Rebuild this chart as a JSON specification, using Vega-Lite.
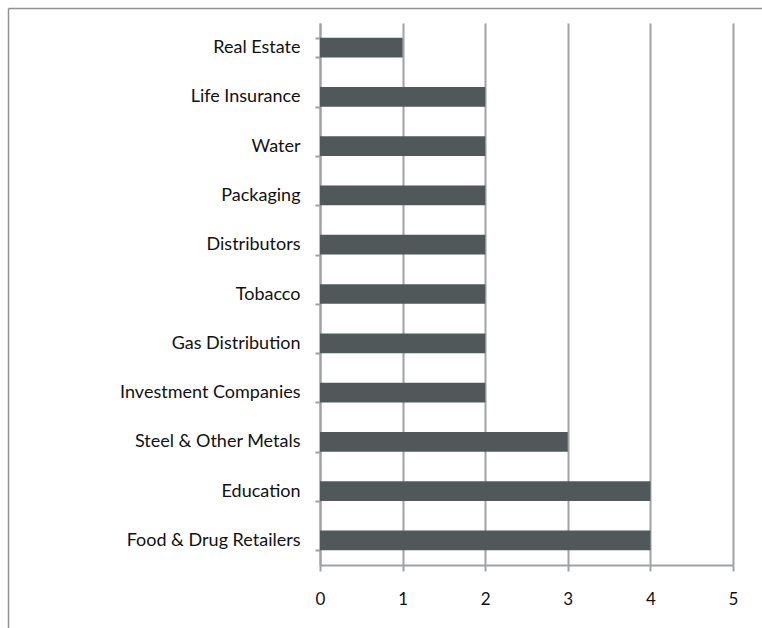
{
  "$schema": "https://vega.github.io/schema/vega-lite/v6.json",
  "autosize": {"type": "none"},
  "width": 413,
  "height": 542,
  "padding": {"left": 320, "top": 23, "right": 29, "bottom": 63},
  "config": {
    "font": "Lato",
    "view": {"stroke": null},
    "axis": {
      "labelFont": "Lato",
      "labelFontSize": 18,
      "labelColor": "#111111",
      "labelLimit": 400,
      "domainColor": "#9EA2A4",
      "domainWidth": 2,
      "tickColor": "#9EA2A4",
      "tickWidth": 2,
      "gridColor": "#9EA2A4",
      "gridWidth": 2,
      "gridOpacity": 1,
      "title": null
    }
  },
  "data": {
    "values": [
      {"sector": "Real Estate", "count": 1},
      {"sector": "Life Insurance", "count": 2},
      {"sector": "Water", "count": 2},
      {"sector": "Packaging", "count": 2},
      {"sector": "Distributors", "count": 2},
      {"sector": "Tobacco", "count": 2},
      {"sector": "Gas Distribution", "count": 2},
      {"sector": "Investment Companies", "count": 2},
      {"sector": "Steel & Other Metals", "count": 3},
      {"sector": "Education", "count": 4},
      {"sector": "Food & Drug Retailers", "count": 4}
    ]
  },
  "layer": [
    {
      "mark": {"type": "bar", "color": "#50585A"},
      "encoding": {
        "y": {
          "field": "sector",
          "type": "nominal",
          "sort": null,
          "scale": {"paddingInner": 0.6, "paddingOuter": 0.3},
          "axis": {
            "tickBand": "extent",
            "tickSize": 5,
            "labelPadding": 15,
            "labelLimit": 400,
            "grid": false
          }
        },
        "x": {
          "field": "count",
          "type": "quantitative",
          "scale": {"domain": [0, 5], "nice": false},
          "axis": {
            "values": [0, 1, 2, 3, 4, 5],
            "tickSize": 6,
            "labelPadding": 20,
            "labelFontSize": 17,
            "grid": true,
            "labelFlush": false
          }
        }
      }
    },
    {
      "mark": {"type": "point", "opacity": 0},
      "encoding": {
        "x": {
          "field": "count",
          "type": "quantitative",
          "scale": {"domain": [0, 5], "nice": false, "range": [-312, 442]},
          "axis": {
            "orient": "top",
            "offset": 15,
            "labels": false,
            "ticks": false,
            "grid": false,
            "domainColor": "#8E9293",
            "domainWidth": 1.5
          }
        },
        "y": {
          "field": "count",
          "type": "quantitative",
          "scale": {"domain": [0, 5], "nice": false, "range": [605, -15]},
          "axis": {
            "orient": "left",
            "offset": 312,
            "labels": false,
            "ticks": false,
            "grid": false,
            "domainColor": "#8E9293",
            "domainWidth": 1.5
          }
        }
      }
    }
  ],
  "resolve": {
    "scale": {"x": "independent", "y": "independent"},
    "axis": {"x": "independent", "y": "independent"}
  }
}
